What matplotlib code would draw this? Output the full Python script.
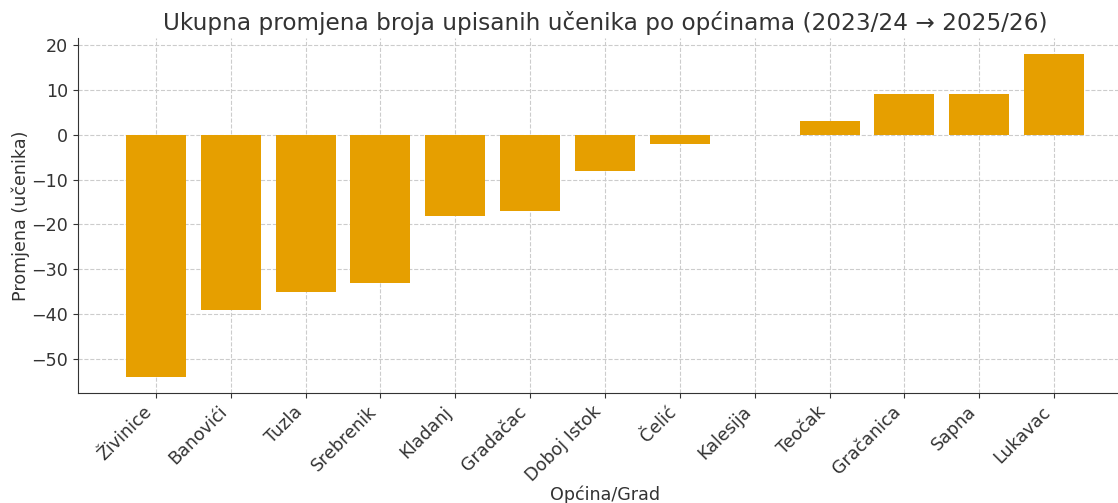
import matplotlib
matplotlib.use("Agg")
import matplotlib.pyplot as plt

categories = ["Živinice", "Banovići", "Tuzla", "Srebrenik", "Kladanj", "Gradačac",
              "Doboj Istok", "Čelić", "Kalesija", "Teočak", "Gračanica", "Sapna", "Lukavac"]
changes = [-54, -39, -35, -33, -18, -17, -8, -2, 0, 3, 9, 9, 18]

plt.rcParams['font.family'] = ['DejaVu Sans']
txt = '#333333'
fs = 12.6

fig = plt.figure(figsize=(11.18, 5.03), dpi=100)
ax = fig.add_axes([78/1118, 1 - 393/503, (1132 - 78)/1118, (393 - 38)/503])

x = list(range(len(categories)))
ax.bar(x, changes, width=0.8, color='#E69F00', linewidth=0, zorder=2)
ax.set_xticks(x)
ax.set_xticklabels(categories, rotation=45, ha='right', rotation_mode='default', fontsize=fs, color=txt)
ax.tick_params(axis='y', labelsize=fs, labelcolor=txt, color=txt)
ax.tick_params(axis='x', color=txt)
ax.grid(True, linestyle='--', color='#cccccc', linewidth=0.8, zorder=0)
ax.set_axisbelow(True)
for s in ['top', 'right']:
    ax.spines[s].set_visible(False)
for s in ['left', 'bottom']:
    ax.spines[s].set_color(txt)

ax.set_title("Ukupna promjena broja upisanih učenika po općinama (2023/24 → 2025/26)",
             fontsize=16.7, color=txt, pad=6)
ax.set_xlabel("Općina/Grad", fontsize=fs, color=txt, labelpad=0.5)
ax.set_ylabel("Promjena (učenika)", fontsize=fs, color=txt, labelpad=1)

fig.savefig("out.png", dpi=100)
